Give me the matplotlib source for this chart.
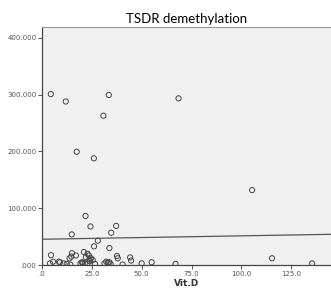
#!/usr/bin/env python3

import numpy
import matplotlib
matplotlib.use("Agg")
import matplotlib.pyplot

vit_d = [4.4, 11.9, 33.5, 30.8, 68.5, 17.4, 26.0, 105.4, 21.8, 24.3, 37.2, 14.9,
         34.7, 28.0, 26.1, 33.8, 115.4, 135.5, 67.0, 55.0, 50.0, 44.7, 44.2, 40.4,
         37.6, 38.0, 4.5, 4.0, 5.5, 9.0, 10.8, 12.4, 13.8, 14.7, 15.0, 17.0, 14.2,
         19.3, 20.0, 21.0, 22.0, 22.8, 23.5, 23.8, 24.6, 25.4, 22.8, 26.6, 31.3,
         32.2, 33.0, 33.8, 34.4, 8.5, 20.5, 21.5, 24.0]
tsdr = [301, 288, 299.5, 263, 293.5, 199.5, 188, 132, 86.5, 68, 69, 54,
        57, 43, 33, 30, 12, 3, 2, 5, 3, 8, 13.5, 1,
        16, 12, 17.5, 3, 6, 5, 3, 2, 12, 15, 21, 17, 1,
        3, 5, 23, 14, 20, 17, 10, 12, 9, 3, 2, 3,
        6, 4, 5, 2, 6, 4, 3, 7]

# Fit line (intercept, slope) ...
fit_intercept = 45.5
fit_slope = 0.06

x_ticks = [0, 25, 50, 75, 100, 125]
y_ticks = [0, 100, 200, 300, 400]

# Create figure ...
fg = matplotlib.pyplot.figure(figsize = (3.31, 2.91), dpi = 100)
ax = fg.add_axes([0.127, 0.089, 0.873, 0.818])
ax.set_facecolor("#f0f0f0")

ax.scatter(vit_d, tsdr, s = 14, facecolors = "none", edgecolors = "#444444", linewidths = 0.7, zorder = 3)

xl = numpy.array([0.0, 145.0])
ax.plot(xl, fit_intercept + fit_slope * xl, color = "#555555", linewidth = 0.9, zorder = 2)

# Configure axis ...
ax.set_xlim(0, 145)
ax.set_ylim(0, 419)
ax.set_xticks(x_ticks)
ax.set_xticklabels(["." + "0" if v == 0 else f"{v:.1f}" for v in x_ticks])
ax.set_yticks(y_ticks)
ax.set_yticklabels([".000" if v == 0 else f"{v:.3f}" for v in y_ticks])
ax.tick_params(labelsize = 5, colors = "#555555", length = 3, width = 0.7, pad = 1)
for side in ["left", "bottom"]:
    ax.spines[side].set_color("#444444")
    ax.spines[side].set_linewidth(0.9)
ax.spines["top"].set_color("#999999")
ax.spines["right"].set_visible(False)

ax.set_title("TSDR demethylation", fontsize = 9.5, family = "Lato", pad = 3)
ax.set_xlabel("Vit.D", fontsize = 6.5, fontweight = "bold", color = "#333333", labelpad = 2)

fg.savefig("out.png", dpi = 100)
matplotlib.pyplot.close(fg)
